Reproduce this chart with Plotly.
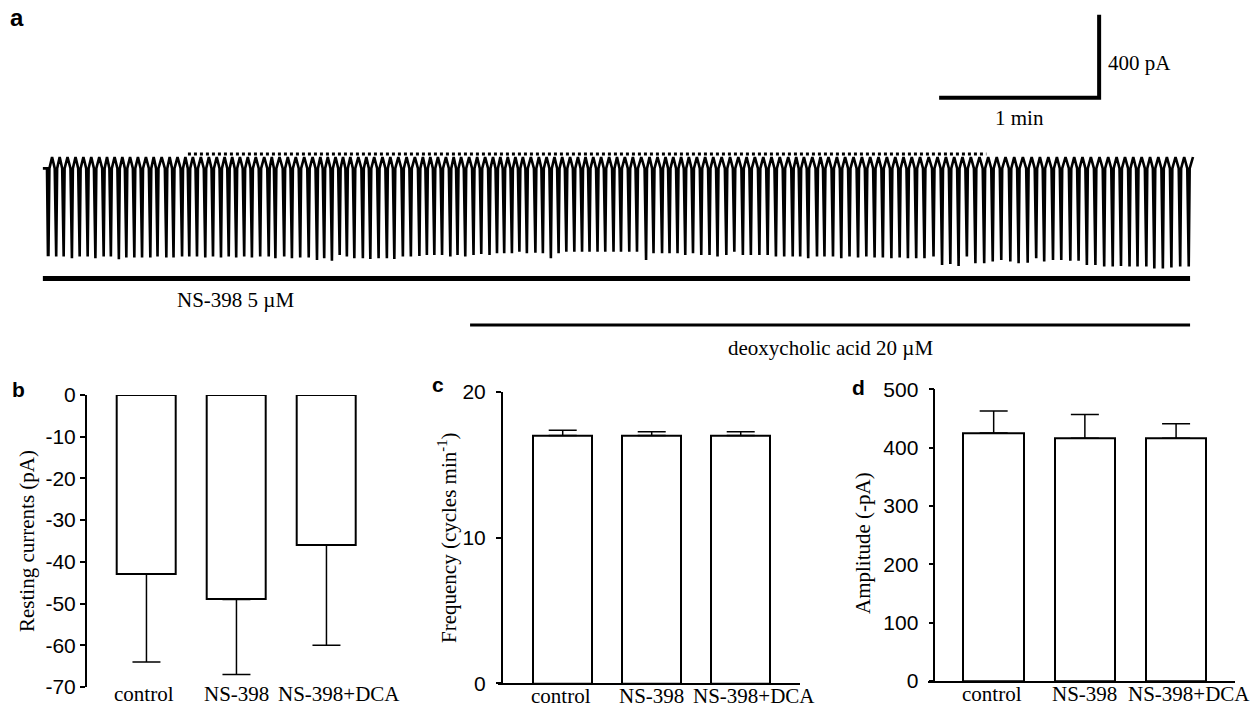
import plotly.graph_objects as go

W, H = 1257, 709

# ---------------- Panel a : membrane current trace ----------------
spike_time_s = [
    1.2, 4.1, 6.9, 10.0, 12.9, 15.9, 18.8, 21.9, 24.6, 27.6, 30.4, 33.4, 36.3, 39.4, 42.1,
    45.4, 48.1, 51.3, 54.0, 56.9, 60.0, 62.9, 65.9, 68.8, 71.6, 74.6, 77.5, 80.6, 83.8,
    86.3, 89.6, 92.5, 95.6, 98.8, 101.9, 104.6, 107.5, 110.4, 113.1, 115.9, 119.1, 121.9,
    125.0, 128.1, 130.9, 134.1, 137.1, 140.3, 143.1, 145.9, 148.8, 151.9, 154.6, 157.5,
    160.6, 163.5, 166.6, 169.4,
    172.1, 175.0, 177.8, 180.6, 183.8, 186.6, 189.6, 192.5, 195.4, 198.4, 201.3, 204.1,
    207.1, 210.0, 213.1, 215.9, 219.0, 221.9, 225.3, 228.1, 231.3, 234.1, 237.1, 240.0,
    242.9, 246.0, 249.1, 252.1, 255.4,
    258.4, 261.6, 264.6, 267.8, 270.9, 274.0, 277.1, 280.3, 283.1, 286.1, 289.4, 292.2,
    295.4, 298.5, 301.6, 304.8, 307.9, 311.0, 314.1, 317.3, 320.4, 323.5, 326.6, 329.7,
    333.1, 336.3, 339.4, 342.5,
    345.6, 348.8, 352.1, 355.3, 358.5, 361.9, 365.0, 368.4, 371.6, 374.6, 377.9, 381.0,
    384.4, 387.5, 390.6, 393.8, 397.1, 400.3, 403.4, 406.6, 409.6, 412.9, 415.9, 419.1,
    422.3, 425.6, 428.8,
]
spike_min_pA = [
    -472, -480, -480, -488, -480, -480, -488, -480, -480, -493, -484, -484, -484, -484, -480,
    -484, -484, -480, -480, -480, -484, -480, -484, -480, -484, -480, -484, -480, -480,
    -488, -480, -488, -484, -484, -496, -488, -500, -472, -480, -488, -488, -492,
    -488, -488, -492, -480, -480, -477, -472, -472, -472, -480, -472, -480,
    -472, -467, -472, -464,
    -464, -464, -456, -464, -461, -464, -488, -464, -456, -456, -456, -456,
    -456, -456, -456, -456, -456, -456, -496, -464, -464, -464, -464, -472,
    -464, -472, -472, -480, -472,
    -456, -472, -472, -472, -472, -480, -480, -480, -480, -488, -480, -480,
    -480, -488, -480, -484, -480, -484, -484, -488, -484, -488, -488, -488,
    -480, -520, -516, -525,
    -480, -512, -512, -504, -496, -504, -512, -509, -488, -504, -496, -496,
    -500, -500, -520, -520, -528, -528, -525, -528, -528, -528, -537, -537,
    -532, -528, -528,
]
resting_level_pA = 0
prespike_level_pA = -55
record_start_s = -0.8
record_end_s = 430.5

# dotted artefact line running along the top of the record
dotted_start_s, dotted_end_s, dotted_level_pA = 53.6, 353.0, 14

scale_time_s = 60
scale_current_pA = 400
scale_corner_t = 395.3
scale_corner_pA = 286

ns398_on_s, ns398_off_s = -0.8, 429.4
dca_on_s, dca_off_s = 159.4, 429.4
ns398_label = "NS-398 5 µM"
dca_label = "deoxycholic acid 20 µM"

# ---------------- Panels b-d : summary bar charts ----------------
groups = ["control", "NS-398", "NS-398+DCA"]
resting_mean = [-43, -49, -36]
resting_sem = [21, 18, 24]
freq_mean = [17.0, 17.0, 17.0]
freq_sem = [0.35, 0.25, 0.25]
amp_mean = [425, 416, 416]
amp_sem = [38, 41, 25]
resting_ticks = [0, -10, -20, -30, -40, -50, -60, -70]
freq_ticks = [0, 10, 20]
amp_ticks = [0, 100, 200, 300, 400, 500]

SERIF = "Liberation Serif, Times New Roman, serif"
SANS = "Liberation Sans, Arial, sans-serif"


def px(xp):
    return xp / W


def py(yp):
    return 1 - yp / H


# build the trace polyline from the spike events
tx, ty = [record_start_s], [prespike_level_pA]
for i, (t, m) in enumerate(zip(spike_time_s, spike_min_pA)):
    tx += [t - 0.45, t - 0.1, t + 0.1, t + 0.45]
    ty += [prespike_level_pA, m, m, prespike_level_pA]
    if i < len(spike_time_s) - 1:
        tx.append((t + spike_time_s[i + 1]) / 2)
        ty.append(resting_level_pA)
tx.append(record_end_s)
ty.append(resting_level_pA)

fig = go.Figure()

fig.add_trace(go.Scatter(x=tx, y=ty, mode="lines", line=dict(color="black", width=2.6),
                         xaxis="x", yaxis="y", showlegend=False, hoverinfo="skip"))
fig.add_trace(go.Scatter(x=[dotted_start_s, dotted_end_s], y=[dotted_level_pA] * 2,
                         mode="lines", line=dict(color="black", width=3, dash="dot"),
                         xaxis="x", yaxis="y", showlegend=False, hoverinfo="skip"))

# scale bar
fig.add_trace(go.Scatter(
    x=[scale_corner_t - scale_time_s, scale_corner_t, scale_corner_t],
    y=[scale_corner_pA, scale_corner_pA, scale_corner_pA + scale_current_pA],
    mode="lines", line=dict(color="black", width=4), xaxis="x", yaxis="y",
    showlegend=False, hoverinfo="skip"))

# drug application bars
fig.add_trace(go.Scatter(x=[ns398_on_s, ns398_off_s], y=[-585, -585], mode="lines",
                         line=dict(color="black", width=5), xaxis="x", yaxis="y",
                         showlegend=False, hoverinfo="skip"))
fig.add_trace(go.Scatter(x=[dca_on_s, dca_off_s], y=[-810, -810], mode="lines",
                         line=dict(color="black", width=3), xaxis="x", yaxis="y",
                         showlegend=False, hoverinfo="skip"))

bar_style = dict(marker=dict(color="white", line=dict(color="black", width=2)),
                 showlegend=False, hoverinfo="skip")

fig.add_trace(go.Bar(x=groups, y=resting_mean, width=0.655, xaxis="x2", yaxis="y2",
                     error_y=dict(type="data", symmetric=False, array=[0, 0, 0],
                                  arrayminus=resting_sem, color="black", thickness=1.5, width=14),
                     **bar_style))
fig.add_trace(go.Bar(x=groups, y=freq_mean, width=0.663, xaxis="x3", yaxis="y3",
                     error_y=dict(type="data", symmetric=False, array=freq_sem,
                                  arrayminus=[0, 0, 0], color="black", thickness=1.5, width=14),
                     **bar_style))
fig.add_trace(go.Bar(x=groups, y=amp_mean, width=0.666, xaxis="x4", yaxis="y4",
                     error_y=dict(type="data", symmetric=False, array=amp_sem,
                                  arrayminus=[0, 0, 0], color="black", thickness=1.5, width=14),
                     **bar_style))

yaxis_common = dict(showline=True, linecolor="black", linewidth=1.5, ticks="outside",
                    ticklen=5, tickwidth=1.5, tickcolor="black", showgrid=False,
                    zeroline=False, tickfont=dict(family=SANS, size=21, color="black"))
xcat_common = dict(type="category", showgrid=False, zeroline=False, ticks="",
                   showticklabels=False, fixedrange=True)

fig.update_layout(
    width=W, height=H, margin=dict(l=0, r=0, t=0, b=0, autoexpand=False),
    paper_bgcolor="white", plot_bgcolor="rgba(0,0,0,0)",
    bargap=0,
    xaxis=dict(domain=[0, 1], range=[(0 - 45) * 0.375, (W - 45) * 0.375], visible=False),
    yaxis=dict(domain=[py(350), 1], range=[(157 - 350) / 0.2075, 157 / 0.2075], visible=False),
    # panel b
    xaxis2=dict(domain=[px(86.7), px(372)], range=[-0.664, 2.506], anchor="y2",
                showline=False, **xcat_common),
    yaxis2=dict(domain=[py(687), py(395)], range=[-70, 0], anchor="x2",
                tickvals=resting_ticks, ticktext=[str(v) for v in resting_ticks],
                ticklabelstandoff=0, **yaxis_common),
    # panel c
    xaxis3=dict(domain=[px(498), px(800)], range=[-0.727, 2.666], anchor="y3",
                showline=True, linecolor="black", linewidth=1.5, **xcat_common),
    yaxis3=dict(domain=[py(683.3), py(391.7)], range=[0, 20], anchor="free",
                position=px(501.7), tickvals=freq_ticks, ticklabelstandoff=6, **yaxis_common),
    # panel d
    xaxis4=dict(domain=[px(928), px(1235)], range=[-0.720, 2.646], anchor="y4",
                showline=True, linecolor="black", linewidth=1.5, **xcat_common),
    yaxis4=dict(domain=[py(681), py(389.3)], range=[0, 500], anchor="free",
                position=px(934.3), tickvals=amp_ticks, ticklabelstandoff=6, **yaxis_common),
)

ann = []


def label(text, x, y, size, family, bold=False, angle=0, xanchor="center"):
    ann.append(dict(text=f"<b>{text}</b>" if bold else text, x=px(x), y=py(y),
                    xref="paper", yref="paper", showarrow=False, textangle=angle,
                    xanchor=xanchor, yanchor="middle",
                    font=dict(family=family, size=size, color="black")))


# panel letters
label("a", 17, 18, 24, SANS, bold=True)
label("b", 18, 389, 21, SANS, bold=True)
label("c", 437.5, 384, 21, SANS, bold=True)
label("d", 858, 387, 21, SANS, bold=True)

# y-axis titles
label("Resting currents (pA)", 27, 541, 21, SERIF, angle=-90)
label("Frequency (cycles min<sup>-1</sup>)", 447, 538, 21, SERIF, angle=-90)
label("Amplitude (-pA)", 863, 543, 21, SERIF, angle=-90)

# category labels below each bar panel
label_shift_px = [-2, 0, 13]
for xref, ypix in [("x2", 694), ("x3", 696), ("x4", 694)]:
    for g, sh in zip(groups, label_shift_px):
        ann.append(dict(text=g, x=g, y=py(ypix), xref=xref, yref="paper", showarrow=False,
                        xanchor="center", yanchor="middle", xshift=sh,
                        font=dict(family=SERIF, size=21, color="black")))

# panel a texts (data coordinates)
for text, x, y, xa in [
    ("400 pA", 397.9, 453, "left"),
    ("1 min", scale_corner_t - scale_time_s / 2, 188, "center"),
    (ns398_label, 71.3, -689, "center"),
    (dca_label, 294.4, -920, "center"),
]:
    ann.append(dict(text=text, x=x, y=y, xref="x", yref="y", showarrow=False,
                    xanchor=xa, yanchor="middle",
                    font=dict(family=SERIF, size=21, color="black")))

fig.update_layout(annotations=ann)

fig.write_html("out.html", config={"displayModeBar": False},
               post_script="document.body.style.margin='0';")
